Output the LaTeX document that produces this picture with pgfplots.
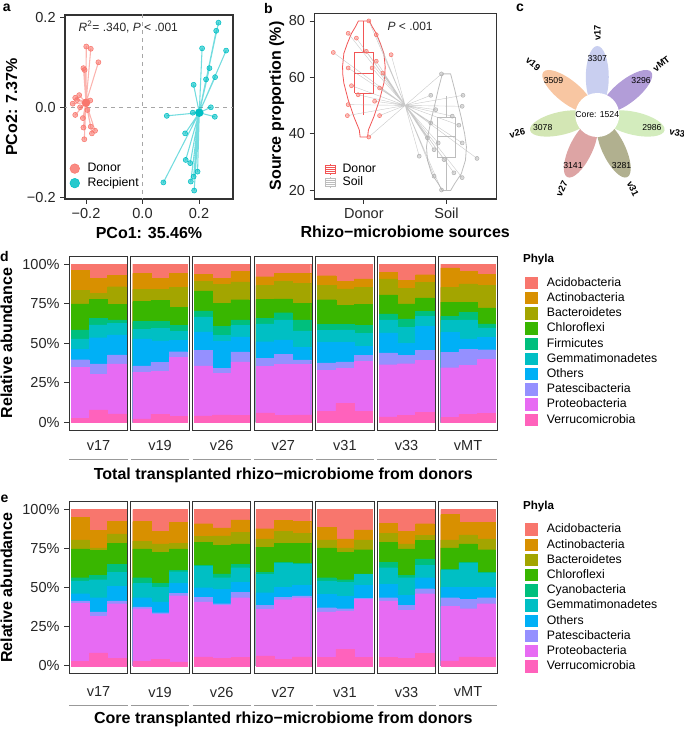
\documentclass[border=0pt]{standalone}
\usepackage{fontspec}
\setmainfont{Liberation Sans}
\usepackage{pgfplots}
\usepackage{pgfplotstable}
\pgfplotsset{compat=1.18}

\definecolor{cAci}{HTML}{F8766D}
\definecolor{cAct}{HTML}{D89000}
\definecolor{cBac}{HTML}{A3A500}
\definecolor{cChl}{HTML}{39B600}
\definecolor{cFir}{HTML}{00BF7D}
\definecolor{cGem}{HTML}{00BFC4}
\definecolor{cOth}{HTML}{00B0F6}
\definecolor{cPat}{HTML}{9590FF}
\definecolor{cPro}{HTML}{E76BF3}
\definecolor{cVer}{HTML}{FF62BC}
\definecolor{donor}{HTML}{F8766D}
\definecolor{recip}{HTML}{00BFC4}
\definecolor{vred}{HTML}{F25555}
\definecolor{vgray}{HTML}{BDBDBD}
\definecolor{pv17}{HTML}{C9CFF0}
\definecolor{pvMT}{HTML}{B29DD8}
\definecolor{pv33}{HTML}{D3ECBD}
\definecolor{pv31}{HTML}{B1B08F}
\definecolor{pv27}{HTML}{DDA4A4}
\definecolor{pv26}{HTML}{D3E6B4}
\definecolor{pv19}{HTML}{F8C6A2}

\newcommand\tickfont{\fontsize{10.9}{12}\selectfont}
\newcommand\titlefont{\fontsize{12}{13}\selectfont\bfseries}
\newcommand\legfont{\fontsize{9.2}{10}\selectfont}
\newcommand\panelfont{\fontsize{10.5}{12}\selectfont\bfseries}
\newcommand\cnum{\fontsize{6.5}{7}\selectfont}
\newcommand\clab{\fontsize{7}{8}\selectfont\bfseries}

% cumulative tops of each phylum (stack from Verrucomicrobia at bottom)
\pgfplotstableread{
x  Aci Act  Bac  Chl  Fir  Gem  Oth  Pat  Pro  Ver
1  100 96.2 83.6 74.8 58.5 52.8 46.1 39.6 35.0 2.5
2  100 91.0 81.5 77.7 65.8 61.6 53.5 37.0 30.5 8.0
3  100 93.0 85.7 74.6 64.7 62.6 55.3 42.6 37.0 5.5
5  100 94.1 84.0 76.3 63.7 58.8 52.7 35.7 31.7 2.3
6  100 91.0 84.0 76.9 63.7 59.5 51.5 38.0 32.1 5.3
7  100 94.1 85.1 72.7 61.3 57.4 51.7 44.7 41.0 3.8
9  100 93.7 88.9 83.0 70.4 66.6 57.2 45.4 35.7 4.1
10 100 91.0 87.0 75.0 60.6 54.9 51.4 34.0 31.2 4.8
11 100 95.3 88.7 77.5 64.7 61.3 54.0 44.5 38.2 4.6
13 100 92.0 86.4 77.6 65.8 62.3 51.0 40.3 35.4 6.0
14 100 94.1 88.9 78.0 69.3 64.7 52.1 43.1 36.8 4.4
15 100 94.1 87.8 75.2 64.7 57.8 47.5 39.5 36.8 4.8
17 100 92.6 86.6 77.5 61.9 58.3 50.6 37.6 32.8 7.0
18 100 88.9 84.3 73.8 61.8 58.5 50.7 38.2 34.0 12.0
19 100 90.7 85.2 74.7 61.4 56.4 48.0 42.5 38.6 7.0
21 100 94.8 90.6 80.5 68.6 64.8 56.6 44.0 36.5 3.6
22 100 89.9 84.7 74.8 65.4 60.2 50.1 42.3 37.1 4.6
23 100 93.3 88.5 78.6 70.0 66.9 60.6 45.5 39.2 6.3
25 100 97.5 85.3 75.9 66.9 64.4 57.0 44.4 34.6 3.1
26 100 95.4 87.4 75.9 69.6 64.8 52.8 46.1 36.0 5.2
27 100 93.7 86.4 72.3 62.3 59.7 53.9 45.9 39.8 5.7
}\dtab

\pgfplotstableread{
x  Aci Act  Bac  Chl  Cya  Gem  Oth  Pat  Pro  Ver
1  100 95.1 80.6 74.9 56.4 54.3 46.2 41.5 40.2 3.0
2  100 86.6 75.5 73.8 57.9 55.1 43.6 34.5 31.7 8.3
3  100 92.3 84.5 78.5 64.9 59.8 50.9 41.5 39.8 4.7
5  100 92.3 79.8 74.9 56.4 52.6 43.6 37.7 36.6 2.8
6  100 86.2 78.1 72.8 52.6 50.4 40.9 34.0 33.0 4.0
7  100 91.9 78.5 74.9 61.1 60.2 52.6 46.6 44.9 2.6
9  100 90.9 83.0 79.1 64.3 63.6 50.0 44.0 40.9 5.7
10 100 88.3 83.2 77.0 58.9 56.4 48.9 39.8 38.7 4.7
11 100 93.4 85.5 78.0 64.9 62.8 53.6 47.2 43.6 5.3
13 100 87.7 81.3 76.0 60.0 58.5 46.8 38.7 36.0 6.4
14 100 93.0 86.2 78.5 66.4 65.7 50.4 44.0 42.3 4.0
15 100 92.6 84.9 78.5 65.7 64.9 51.5 44.7 43.6 5.7
17 100 88.7 80.6 75.5 56.4 54.3 45.7 37.2 34.5 5.3
18 100 81.3 75.5 72.8 55.1 53.6 44.5 36.6 35.1 10.6
19 100 87.0 80.6 74.3 58.9 58.5 51.5 43.4 42.6 5.3
21 100 91.3 84.9 79.1 66.4 62.8 52.1 43.6 41.5 5.3
22 100 86.2 78.1 74.9 57.9 56.4 45.1 38.7 35.5 4.7
23 100 90.9 83.4 80.2 68.5 64.3 56.4 49.4 46.2 7.9
25 100 96.8 80.6 75.5 61.7 61.1 50.4 43.6 38.1 3.2
26 100 91.9 83.8 78.1 66.4 65.7 50.4 42.6 36.6 5.7
27 100 91.9 81.3 74.3 60.0 59.4 50.4 43.6 39.8 5.3
}\etab

\pgfplotsset{
  stk/.style={ybar, bar width=1, bar shift=0pt, fill=#1, draw=#1, line width=0.2pt},
  facet/.style={anchor=north west, scale only axis, width=43.8pt, ymin=-5, ymax=105,
    axis line style={draw=black!80, line width=0.8pt}, xtick=\empty, ytick=\empty,
    tick align=outside, major tick length=3.8pt, tick style={black!80, line width=0.6pt},
    ticklabel style={font=\tickfont, text=black!85}},
  firstfacet/.style={ytick={0,25,50,75,100}, yticklabels={0\%,25\%,50\%,75\%,100\%}, ytick pos=left},
  dot/.style={only marks, mark=*, color=#1, mark options={draw opacity=0, fill=#1}},
}

\newcommand\facet[6]{%
\begin{axis}[facet, at={(#1,#2)}, xmin=#3, xmax=#4, #6]
\addplot[stk=cAci] table[x index=0,y index=1]{#5};
\addplot[stk=cAct] table[x index=0,y index=2]{#5};
\addplot[stk=cBac] table[x index=0,y index=3]{#5};
\addplot[stk=cChl] table[x index=0,y index=4]{#5};
\addplot[stk=cFir] table[x index=0,y index=5]{#5};
\addplot[stk=cGem] table[x index=0,y index=6]{#5};
\addplot[stk=cOth] table[x index=0,y index=7]{#5};
\addplot[stk=cPat] table[x index=0,y index=8]{#5};
\addplot[stk=cPro] table[x index=0,y index=9]{#5};
\addplot[stk=cVer] table[x index=0,y index=10]{#5};
\end{axis}}

\begin{document}
\begin{tikzpicture}[x=0.75pt,y=0.75pt]
\path[use as bounding box] (0,0) rectangle (684,729);

% ---------------- panel a
\begin{axis}[at={(48.75pt,535.5pt)}, anchor=north west, scale only axis, width=126pt, height=138pt,
  xmin=-0.2743, xmax=0.3204, ymin=-0.2038, ymax=0.2051,
  xtick={-0.2,0,0.2}, xticklabels={−0.2,0.0,0.2}, ytick={-0.2,0,0.2}, yticklabels={−0.2,0.0,0.2},
  tick pos=left, tick align=outside, major tick length=3.5pt, tick style={black!80,line width=0.6pt},
  axis line style={black!80, line width=0.8pt}, ticklabel style={font=\tickfont, text=black!85},
  legend style={at={(0.028,0.205)}, anchor=north west, draw=none, fill=none, inner sep=0pt,
    font=\legfont, row sep=0.3pt, nodes={inner sep=1pt, text height=6.8pt, text depth=1.8pt},
    /tikz/every odd column/.append style={column sep=5pt}},
  legend cell align=left,
  legend image code/.code={\draw[mark repeat=2,mark phase=2,#1] plot coordinates {(0pt,0pt)(4pt,0pt)(8pt,0pt)};}]
\addplot[black!35, dashed, line width=0.5pt, forget plot] coordinates {(0,-0.21)(0,0.21)};
\addplot[black!35, dashed, line width=0.5pt, forget plot] coordinates {(-0.28,0)(0.33,0)};
\addplot[donor, draw opacity=0.55, line width=0.8pt, line join=round, forget plot] coordinates {
(-0.200,0.010)(-0.199,0.135)(-0.200,0.010)(-0.183,0.130)(-0.200,0.010)(-0.156,0.100)(-0.200,0.010)(-0.209,0.087)(-0.200,0.010)(-0.205,0.083)(-0.200,0.010)(-0.224,0.027)(-0.200,0.010)(-0.238,0.021)(-0.200,0.010)(-0.247,0.008)(-0.200,0.010)(-0.232,0.016)(-0.200,0.010)(-0.185,0.015)(-0.200,0.010)(-0.238,-0.017)(-0.200,0.010)(-0.195,-0.006)(-0.200,0.010)(-0.211,-0.024)(-0.200,0.010)(-0.209,-0.045)(-0.200,0.010)(-0.183,-0.043)(-0.200,0.010)(-0.179,-0.058)(-0.200,0.010)(-0.168,-0.052)(-0.200,0.010)(-0.206,-0.071)(-0.200,0.010)(-0.221,0.000)};
\addplot[recip, draw opacity=0.55, line width=0.8pt, line join=round, forget plot] coordinates {
(0.201,-0.012)(0.269,0.188)(0.201,-0.012)(0.261,0.170)(0.201,-0.012)(0.296,0.126)(0.201,-0.012)(0.211,0.131)(0.201,-0.012)(0.237,0.087)(0.201,-0.012)(0.257,0.067)(0.201,-0.012)(0.225,0.062)(0.201,-0.012)(0.181,0.050)(0.201,-0.012)(0.242,0.000)(0.201,-0.012)(0.178,-0.012)(0.201,-0.012)(0.086,-0.019)(0.201,-0.012)(0.256,-0.021)(0.201,-0.012)(0.151,-0.058)(0.201,-0.012)(0.153,-0.117)(0.201,-0.012)(0.169,-0.124)(0.201,-0.012)(0.195,-0.143)(0.201,-0.012)(0.181,-0.154)(0.201,-0.012)(0.171,-0.165)(0.201,-0.012)(0.074,-0.167)(0.201,-0.012)(0.183,-0.185)};
\addplot[dot=donor, mark size=1.9pt, mark options={fill opacity=0.6}, forget plot] coordinates {
(-0.199,0.135)(-0.183,0.130)(-0.156,0.100)(-0.209,0.087)(-0.205,0.083)(-0.224,0.027)(-0.238,0.021)(-0.247,0.008)(-0.232,0.016)(-0.185,0.015)(-0.238,-0.017)(-0.195,-0.006)(-0.211,-0.024)(-0.209,-0.045)(-0.183,-0.043)(-0.179,-0.058)(-0.168,-0.052)(-0.206,-0.071)(-0.221,0.000)};
\addplot[dot=recip, mark size=1.9pt, mark options={fill opacity=0.6}, forget plot] coordinates {
(0.269,0.188)(0.261,0.170)(0.296,0.126)(0.211,0.131)(0.237,0.087)(0.257,0.067)(0.225,0.062)(0.181,0.050)(0.242,0.000)(0.178,-0.012)(0.086,-0.019)(0.256,-0.021)(0.151,-0.058)(0.153,-0.117)(0.169,-0.124)(0.195,-0.143)(0.181,-0.154)(0.171,-0.165)(0.074,-0.167)(0.183,-0.185)};
\addplot[dot=donor, mark size=3.2pt, forget plot] coordinates {(-0.200,0.010)};
\addplot[dot=recip, mark size=3.2pt, forget plot] coordinates {(0.201,-0.012)};
\addlegendimage{dot=donor, mark size=3.6pt, mark options={fill opacity=0.85}}
\addlegendentry{Donor}
\addlegendimage{dot=recip, mark size=3.6pt, mark options={fill opacity=0.85}}
\addlegendentry{Recipient}
\end{axis}

% ---------------- panel b
\begin{axis}[at={(235.725pt,536.775pt)}, anchor=north west, scale only axis, width=136.3pt, height=139.3pt,
  xmin=0.4, xmax=2.6, ymin=16.8, ymax=82.7,
  xtick={1,2}, xticklabels={Donor,Soil}, ytick={20,40,60,80}, yticklabels={20,40,60,80},
  tick pos=left, tick align=outside, major tick length=3.5pt, tick style={black!80,line width=0.6pt},
  axis line style={black!80, line width=0.8pt}, ticklabel style={font=\tickfont, text=black!85},
  legend style={at={(0.059,0.195)}, anchor=north west, draw=none, fill=none, inner sep=0pt,
    font=\legfont, row sep=0.5pt, nodes={inner sep=0.5pt, text height=6.6pt, text depth=1.8pt},
    /tikz/every odd column/.append style={column sep=4.5pt}},
  legend cell align=left,
  legend image code/.code={\draw[#1] (0pt,-3pt) rectangle (7.5pt,3pt); \draw[#1] (0pt,0pt)--(7.5pt,0pt);
     \draw[#1] (0pt,-1.5pt)--(7.5pt,-1.5pt); \draw[#1] (0pt,1.5pt)--(7.5pt,1.5pt);
     \draw[#1] (3.75pt,3pt)--(3.75pt,4.3pt); \draw[#1] (3.75pt,-3pt)--(3.75pt,-4.3pt);}]
% violins
\addplot[vred, line width=0.6pt, line join=round, forget plot] coordinates {
(1.045,38.8)(1.055,41.3)(1.121,46)(1.19,52)(1.242,57.9)(1.255,61)(1.258,63.8)(1.242,68.5)(1.2,72)(1.149,75.6)(1.1,78)(1.066,80)
(0.934,80)(0.9,78)(0.851,75.6)(0.8,72)(0.758,68.5)(0.742,63.8)(0.745,61)(0.758,57.9)(0.81,52)(0.879,46)(0.945,41.3)(0.955,38.8)(1.045,38.8)};
\addplot[vgray, line width=0.6pt, line join=round, forget plot] coordinates {
(2.05,19.8)(2.1,22.3)(2.18,25.8)(2.23,30.6)(2.242,35.3)(2.22,40)(2.18,45.6)(2.141,50.3)(2.1,55.6)(2.05,61.2)
(1.95,61.2)(1.9,55.6)(1.859,50.3)(1.82,45.6)(1.78,40)(1.758,35.3)(1.77,30.6)(1.82,25.8)(1.9,22.3)(1.95,19.8)(2.05,19.8)};
% boxes (box, median, whiskers)
\addplot[vred, line width=0.6pt, unbounded coords=jump, forget plot] coordinates {
(0.89,54.4)(1.11,54.4)(1.11,68.8)(0.89,68.8)(0.89,54.4)(nan,nan)(0.89,61.2)(1.11,61.2)(nan,nan)(1,68.8)(1,80)(nan,nan)(1,54.4)(1,46.5)};
\addplot[vgray, line width=0.6pt, unbounded coords=jump, forget plot] coordinates {
(1.895,31.4)(2.105,31.4)(2.105,45.6)(1.895,45.6)(1.895,31.4)(nan,nan)(1.895,39.0)(2.105,39.0)(nan,nan)(2,45.6)(2,53.2)(nan,nan)(2,31.4)(2,19.8)};
% paired lines
\addplot[black!30, draw opacity=0.7, line width=0.3pt, unbounded coords=jump, forget plot] coordinates {
(0.63,68.8)(2.37,31.2)(nan,nan)(0.81,75.6)(2.19,24.4)(nan,nan)(0.91,73.9)(2.09,26.1)(nan,nan)(1.15,75.1)(1.85,24.9)(nan,nan)(1.33,68.0)(1.67,32.0)(nan,nan)(0.81,63.3)(2.19,36.7)(nan,nan)(0.85,57.0)(2.15,43.0)(nan,nan)(0.93,53.8)(2.07,46.2)(nan,nan)(0.81,50.3)(2.19,49.7)(nan,nan)(0.80,46.4)(2.20,53.6)(nan,nan)(1.19,46.4)(1.81,53.6)(nan,nan)(1.10,63.3)(1.90,36.7)(nan,nan)(1.15,65.7)(1.85,34.3)(nan,nan)(1.03,69.2)(1.97,30.8)(nan,nan)(1.23,61.5)(1.77,38.5)(nan,nan)(1.19,56.2)(1.81,43.8)(nan,nan)(1.06,80.0)(1.94,20.0)(nan,nan)(1.13,51.5)(1.87,48.5)(nan,nan)(1.06,38.8)(1.94,61.2)};
% points
\addplot[dot=donor, mark size=1.5pt, mark options={fill opacity=0.45}, forget plot] coordinates {
(0.63,68.8)(0.81,75.6)(0.91,73.9)(1.15,75.1)(1.33,68.0)(0.81,63.3)(0.85,57.0)(0.93,53.8)(0.81,50.3)(0.80,46.4)(1.19,46.4)(1.10,63.3)(1.15,65.7)(1.03,69.2)(1.23,61.5)(1.19,56.2)(1.06,80.0)(1.13,51.5)(1.06,38.8)};
\addplot[dot=black!30, mark size=1.5pt, mark options={fill opacity=0.45}, forget plot] coordinates {
(2.37,31.2)(2.19,24.4)(2.09,26.1)(1.85,24.9)(1.67,32.0)(2.19,36.7)(2.15,43.0)(2.07,46.2)(2.19,49.7)(2.20,53.6)(1.81,53.6)(1.90,36.7)(1.85,34.3)(1.97,30.8)(1.77,38.5)(1.81,43.8)(1.94,20.0)(1.87,48.5)(1.94,61.2)};
\addlegendimage{vred, line width=0.5pt}
\addlegendentry{Donor}
\addlegendimage{vgray, line width=0.5pt}
\addlegendentry{Soil}
\node[font=\fontsize{9}{10}\selectfont, text=black!85] at (axis cs:1.56,78) {\textit{P} < .001};
\end{axis}

% ---------------- panel c
\begin{axis}[at={(378.75pt,374.25pt)}, anchor=south west, scale only axis, width=134.25pt, height=172.5pt,
  xmin=-92.3, xmax=86.7, ymin=-115, ymax=115, hide axis, clip=false]
\addplot[draw=none, forget plot] coordinates {(0,0)};
\fill[pv17, rotate around={90:(axis cs:0,38)}] (axis cs:0,38) ellipse [x radius=23.25pt, y radius=8.6pt];
\fill[pvMT, rotate around={38.57:(axis cs:29.7,23.7)}] (axis cs:29.7,23.7) ellipse [x radius=23.25pt, y radius=8.6pt];
\fill[pv33, rotate around={-12.86:(axis cs:37.0,-8.5)}] (axis cs:37.0,-8.5) ellipse [x radius=23.25pt, y radius=8.6pt];
\fill[pv31, rotate around={-64.29:(axis cs:16.5,-34.2)}] (axis cs:16.5,-34.2) ellipse [x radius=23.25pt, y radius=8.6pt];
\fill[pv27, rotate around={-115.71:(axis cs:-16.5,-34.2)}] (axis cs:-16.5,-34.2) ellipse [x radius=23.25pt, y radius=8.6pt];
\fill[pv26, rotate around={-167.14:(axis cs:-37.0,-8.5)}] (axis cs:-37.0,-8.5) ellipse [x radius=23.25pt, y radius=8.6pt];
\fill[pv19, rotate around={141.43:(axis cs:-29.7,23.7)}] (axis cs:-29.7,23.7) ellipse [x radius=23.25pt, y radius=8.6pt];
\fill[white] (axis cs:0,0) circle [radius=16.5pt];
\node[font=\cnum, inner sep=0pt] at (axis cs:0,0) {Core: 1524};
\node[font=\cnum, inner sep=0pt] at (axis cs:0,56) {3307};
\node[font=\cnum, inner sep=0pt] at (axis cs:43.8,34.9) {3296};
\node[font=\cnum, inner sep=0pt] at (axis cs:54.6,-12.5) {2986};
\node[font=\cnum, inner sep=0pt] at (axis cs:24.3,-50.5) {3281};
\node[font=\cnum, inner sep=0pt] at (axis cs:-24.3,-50.5) {3141};
\node[font=\cnum, inner sep=0pt] at (axis cs:-54.6,-12.5) {3078};
\node[font=\cnum, inner sep=0pt] at (axis cs:-43.8,34.9) {3509};
\node[font=\clab, inner sep=0pt, rotate=90] at (axis cs:0,82) {v17};
\node[font=\clab, inner sep=0pt, rotate=38.57] at (axis cs:64.1,51.1) {vMT};
\node[font=\clab, inner sep=0pt, rotate=-12.86] at (axis cs:80.0,-18.2) {v33};
\node[font=\clab, inner sep=0pt, rotate=-64.29] at (axis cs:35.6,-73.9) {v31};
\node[font=\clab, inner sep=0pt, rotate=64.29] at (axis cs:-35.6,-73.9) {v27};
\node[font=\clab, inner sep=0pt, rotate=12.86] at (axis cs:-80.0,-18.2) {v26};
\node[font=\clab, inner sep=0pt, rotate=-38.57] at (axis cs:-64.1,51.1) {v19};
\end{axis}

% ---------------- panel d
\facet{51.975pt}{354.675pt}{0.4}{3.6}{\dtab}{height=130.725pt, firstfacet}
\facet{98.175pt}{354.675pt}{4.4}{7.6}{\dtab}{height=130.725pt}
\facet{144.375pt}{354.675pt}{8.4}{11.6}{\dtab}{height=130.725pt}
\facet{190.575pt}{354.675pt}{12.4}{15.6}{\dtab}{height=130.725pt}
\facet{236.775pt}{354.675pt}{16.4}{19.6}{\dtab}{height=130.725pt}
\facet{282.975pt}{354.675pt}{20.4}{23.6}{\dtab}{height=130.725pt}
\facet{329.175pt}{354.675pt}{24.4}{27.6}{\dtab}{height=130.725pt}

% ---------------- panel e
\facet{51.975pt}{170.475pt}{0.4}{3.6}{\etab}{height=129pt, firstfacet}
\facet{98.175pt}{170.475pt}{4.4}{7.6}{\etab}{height=129pt}
\facet{144.375pt}{170.475pt}{8.4}{11.6}{\etab}{height=129pt}
\facet{190.575pt}{170.475pt}{12.4}{15.6}{\etab}{height=129pt}
\facet{236.775pt}{170.475pt}{16.4}{19.6}{\etab}{height=129pt}
\facet{282.975pt}{170.475pt}{20.4}{23.6}{\etab}{height=129pt}
\facet{329.175pt}{170.475pt}{24.4}{27.6}{\etab}{height=129pt}

% ---------------- legends d and e
\begin{axis}[at={(393.75pt,339.3pt)}, anchor=north west, hide axis, scale only axis, width=5pt, height=5pt,
  xmin=0,xmax=1,ymin=0,ymax=1,
  legend style={at={(0,1)}, anchor=north west, draw=none, fill=none, inner sep=0pt, font=\legfont,
    row sep=2.2pt, nodes={inner sep=0pt, text height=7pt, text depth=2pt},
    /tikz/every odd column/.append style={column sep=7pt}},
  legend cell align=left,
  legend image code/.code={\fill[#1] (0pt,-4.6pt) rectangle (9.2pt,4.6pt);}]
\addplot[draw=none, forget plot] coordinates {(0,0)};
\addlegendimage{fill=cAci, draw=none}\addlegendentry{Acidobacteria}
\addlegendimage{fill=cAct, draw=none}\addlegendentry{Actinobacteria}
\addlegendimage{fill=cBac, draw=none}\addlegendentry{Bacteroidetes}
\addlegendimage{fill=cChl, draw=none}\addlegendentry{Chloroflexi}
\addlegendimage{fill=cFir, draw=none}\addlegendentry{Firmicutes}
\addlegendimage{fill=cGem, draw=none}\addlegendentry{Gemmatimonadetes}
\addlegendimage{fill=cOth, draw=none}\addlegendentry{Others}
\addlegendimage{fill=cPat, draw=none}\addlegendentry{Patescibacteria}
\addlegendimage{fill=cPro, draw=none}\addlegendentry{Proteobacteria}
\addlegendimage{fill=cVer, draw=none}\addlegendentry{Verrucomicrobia}
\end{axis}
\begin{axis}[at={(393.75pt,154.35pt)}, anchor=north west, hide axis, scale only axis, width=5pt, height=5pt,
  xmin=0,xmax=1,ymin=0,ymax=1,
  legend style={at={(0,1)}, anchor=north west, draw=none, fill=none, inner sep=0pt, font=\legfont,
    row sep=2.2pt, nodes={inner sep=0pt, text height=7pt, text depth=2pt},
    /tikz/every odd column/.append style={column sep=7pt}},
  legend cell align=left,
  legend image code/.code={\fill[#1] (0pt,-4.6pt) rectangle (9.2pt,4.6pt);}]
\addplot[draw=none, forget plot] coordinates {(0,0)};
\addlegendimage{fill=cAci, draw=none}\addlegendentry{Acidobacteria}
\addlegendimage{fill=cAct, draw=none}\addlegendentry{Actinobacteria}
\addlegendimage{fill=cBac, draw=none}\addlegendentry{Bacteroidetes}
\addlegendimage{fill=cChl, draw=none}\addlegendentry{Chloroflexi}
\addlegendimage{fill=cFir, draw=none}\addlegendentry{Cyanobacteria}
\addlegendimage{fill=cGem, draw=none}\addlegendentry{Gemmatimonadetes}
\addlegendimage{fill=cOth, draw=none}\addlegendentry{Others}
\addlegendimage{fill=cPat, draw=none}\addlegendentry{Patescibacteria}
\addlegendimage{fill=cPro, draw=none}\addlegendentry{Proteobacteria}
\addlegendimage{fill=cVer, draw=none}\addlegendentry{Verrucomicrobia}
\end{axis}

% ---------------- texts
\node[font=\panelfont] at (6.7,720.7) {a};
\node[font=\panelfont] at (268.3,720.7) {b};
\node[font=\panelfont] at (520,720.7) {c};
\node[font=\panelfont] at (4.5,472.3) {d};
\node[font=\panelfont] at (4.5,229.7) {e};
\node[font=\fontsize{9}{10}\selectfont, text=black!85, anchor=west] at (74,702.3) {\textit{R}\textsuperscript{2}= .340, \textit{P} < .001};
\node[font=\titlefont, rotate=90] at (11.7,622) {PCo2: 7.37\%};
\node[font=\titlefont] at (149,496) {PCo1: 35.46\%};
\node[font=\titlefont, rotate=90] at (276.7,623) {Source proportion (\%)};
\node[font=\titlefont] at (405.2,497.3) {Rhizo−microbiome sources};
\node[font=\titlefont, rotate=90] at (6.5,386) {Relative abundance};
\node[font=\titlefont, rotate=90] at (6.5,141.3) {Relative abundance};
\node[font=\titlefont] at (283.3,253.5) {Total transplanted rhizo−microbiome from donors};
\node[font=\titlefont] at (283.3,9.5) {Core transplanted rhizo−microbiome from donors};
\node[font=\fontsize{8.7}{10}\selectfont\bfseries, anchor=west] at (518.3,469) {Phyla};
\node[font=\fontsize{8.7}{10}\selectfont\bfseries, anchor=west] at (518.3,222.3) {Phyla};
\foreach \cx/\lab in {98.5/v17,160.1/v19,221.7/v26,283.3/v27,344.9/v31,406.5/v33,468.1/vMT}{
  \node[font=\tickfont, text=black!85] at (\cx,283.3) {\lab};
  \node[font=\tickfont, text=black!85] at (\cx,37) {\lab};
  \draw[black!40, line width=0.7pt] (\cx-29.2,269.7) -- (\cx+29.2,269.7);
  \draw[black!40, line width=0.7pt] (\cx-29.2,24) -- (\cx+29.2,24);
}
\end{tikzpicture}
\end{document}
